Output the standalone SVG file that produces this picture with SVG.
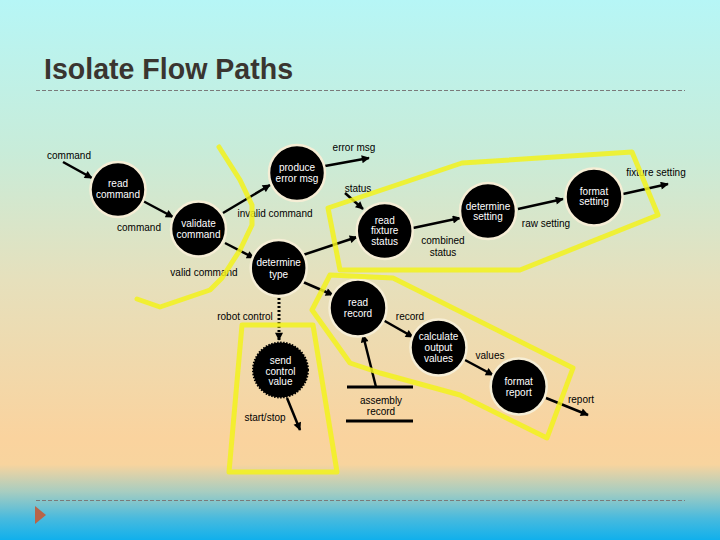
<svg xmlns="http://www.w3.org/2000/svg" width="720" height="540" viewBox="0 0 720 540">
<defs>
<linearGradient id="bg" x1="0" y1="0" x2="0" y2="1">
<stop offset="0" stop-color="#b6f6f6"/>
<stop offset="0.28" stop-color="#c8ecd9"/>
<stop offset="0.52" stop-color="#e6e0bc"/>
<stop offset="0.81" stop-color="#fad39e"/>
<stop offset="0.86" stop-color="#f8d49e"/>
<stop offset="0.91" stop-color="#a8cdc0"/>
<stop offset="0.96" stop-color="#48bade"/>
<stop offset="1" stop-color="#10b0ec"/>
</linearGradient>
<marker id="ah" viewBox="0 0 10 10" refX="9" refY="5" markerWidth="9" markerHeight="8" markerUnits="userSpaceOnUse" orient="auto">
<path d="M0,0 L10,5 L0,10 z" fill="#000"/>
</marker>
</defs>
<style>
.title{font-family:"Liberation Sans",Arial,sans-serif;font-size:29px;font-weight:bold;fill:#3a3530}
.rule{stroke:#7a7a7a;stroke-width:1;stroke-dasharray:4 2}
.node circle{fill:#000;stroke:#f6eed6;stroke-width:2.5}
.node text{font-family:"Liberation Sans",Arial,sans-serif;font-size:10px;fill:#fff;text-anchor:middle}
.lbl{font-family:"Liberation Sans",Arial,sans-serif;font-size:10px;fill:#000;text-anchor:middle}
.edge{stroke:#000;stroke-width:2.5;fill:none;marker-end:url(#ah)}
.dot{stroke-dasharray:2 2;stroke-width:3}
.hl{fill:none;stroke:#f2f21c;stroke-width:5;stroke-linejoin:round;stroke-linecap:round;opacity:0.85}
.store{stroke:#000;stroke-width:3}
</style>
<rect x="0" y="0" width="720" height="540" fill="url(#bg)"/>
<text class="title" x="44" y="79" textLength="249" lengthAdjust="spacingAndGlyphs">Isolate Flow Paths</text>
<line class="rule" x1="36" y1="90.5" x2="685" y2="90.5"/>
<line class="rule" x1="36" y1="500.5" x2="685" y2="500.5"/>
<path d="M35,506 L46,515 L35,524 z" fill="#b86448"/>

<g id="connectors">
<line class="edge" x1="63" y1="162" x2="92" y2="178"/>
<line class="edge" x1="143" y1="201" x2="173" y2="217"/>
<line class="edge" x1="223" y1="213" x2="270" y2="185"/>
<line class="edge" x1="225" y1="243" x2="254" y2="258"/>
<line class="edge" x1="325" y1="166" x2="369" y2="158"/>
<line class="edge" x1="345" y1="193" x2="363" y2="209"/>
<line class="edge" x1="303" y1="255" x2="357" y2="237"/>
<line class="edge" x1="413" y1="228" x2="460" y2="218"/>
<line class="edge" x1="518" y1="209" x2="563" y2="199"/>
<line class="edge" x1="623" y1="194" x2="668" y2="184"/>
<line class="edge" x1="303" y1="282" x2="333" y2="295"/>
<line class="edge dot" x1="279" y1="298" x2="279" y2="340"/>
<line class="edge" x1="287" y1="398" x2="300" y2="430"/>
<line class="edge" x1="376" y1="387" x2="363" y2="335"/>
<line class="edge" x1="383" y1="320" x2="413" y2="337"/>
<line class="edge" x1="465" y1="360" x2="493" y2="375"/>
<line class="edge" x1="546" y1="398" x2="588" y2="415"/>
<text class="lbl" x="69" y="158.5">command</text>
<text class="lbl" x="139" y="230.5">command</text>
<text class="lbl" x="275" y="216.5">invalid command</text>
<text class="lbl" x="204" y="275.5">valid command</text>
<text class="lbl" x="354" y="150.5">error msg</text>
<text class="lbl" x="358" y="191.5">status</text>
<text class="lbl" x="443" y="243.5">combined</text>
<text class="lbl" x="443" y="255.5">status</text>
<text class="lbl" x="546" y="226.5">raw setting</text>
<text class="lbl" x="656" y="175.5">fixture setting</text>
<text class="lbl" x="245" y="319.5">robot control</text>
<text class="lbl" x="410" y="319.5">record</text>
<text class="lbl" x="490" y="358.5">values</text>
<text class="lbl" x="581" y="402.5">report</text>
<text class="lbl" x="265" y="420.5">start/stop</text>
</g>

<g id="n-read-command" class="node"><circle cx="118" cy="189.5" r="27.5"/><text x="118" y="187">read</text><text x="118" y="198">command</text></g>
<g id="n-validate-command" class="node"><circle cx="198.5" cy="229" r="27.5"/><text x="198.5" y="227">validate</text><text x="198.5" y="238">command</text></g>
<g id="n-produce-error-msg" class="node"><circle cx="297" cy="173" r="28"/><text x="297" y="171">produce</text><text x="297" y="182">error msg</text></g>
<g id="n-determine-type" class="node"><circle cx="278.7" cy="268" r="28"/><text x="278.7" y="266">determine</text><text x="278.7" y="277.5">type</text></g>
<g id="n-read-fixture-status" class="node"><circle cx="384.7" cy="231" r="28"/><text x="384.7" y="224">read</text><text x="384.7" y="234">fixture</text><text x="384.7" y="245">status</text></g>
<g id="n-determine-setting" class="node"><circle cx="488" cy="211" r="28"/><text x="488" y="209.5">determine</text><text x="488" y="220">setting</text></g>
<g id="n-format-setting" class="node"><circle cx="594" cy="197" r="28.5"/><text x="594" y="195">format</text><text x="594" y="205">setting</text></g>
<g id="n-read-record" class="node"><circle cx="358" cy="308" r="28.5"/><text x="358" y="306">read</text><text x="358" y="316.5">record</text></g>
<g id="n-calculate-output-values" class="node"><circle cx="438.5" cy="347.5" r="28"/><text x="438.5" y="340">calculate</text><text x="438.5" y="351">output</text><text x="438.5" y="362">values</text></g>
<g id="n-format-report" class="node"><circle cx="518.7" cy="386.5" r="28"/><text x="518.7" y="385">format</text><text x="518.7" y="396">report</text></g>
<g id="n-send-control-value" class="node"><circle cx="280.5" cy="370" r="27.5" style="stroke:#000;stroke-width:2;stroke-dasharray:1.5 1.5"/><text x="280.5" y="364">send</text><text x="280.5" y="374.5">control</text><text x="280.5" y="385">value</text></g>
<g id="s-assembly-record">
<line class="store" x1="347" y1="387" x2="413" y2="387"/>
<line class="store" x1="346" y1="421" x2="413" y2="421"/>
<text class="lbl" x="381" y="403.5">assembly</text>
<text class="lbl" x="381" y="414.5">record</text>
</g>

<g id="highlights">
<polyline class="hl" points="219,147 240,180 252,205 252,225 240,250 222,278 210,290 160,307 137,299"/>
<polygon class="hl" points="328,208 462,163 632,152 658,215 520,270 340,270"/>
<polygon class="hl" points="330,275 393,278 573,368 547,438 460,395 380,373 350,363 312,310"/>
<polygon class="hl" points="242,325 313,325 337,472 229,472"/>
</g>
</svg>
